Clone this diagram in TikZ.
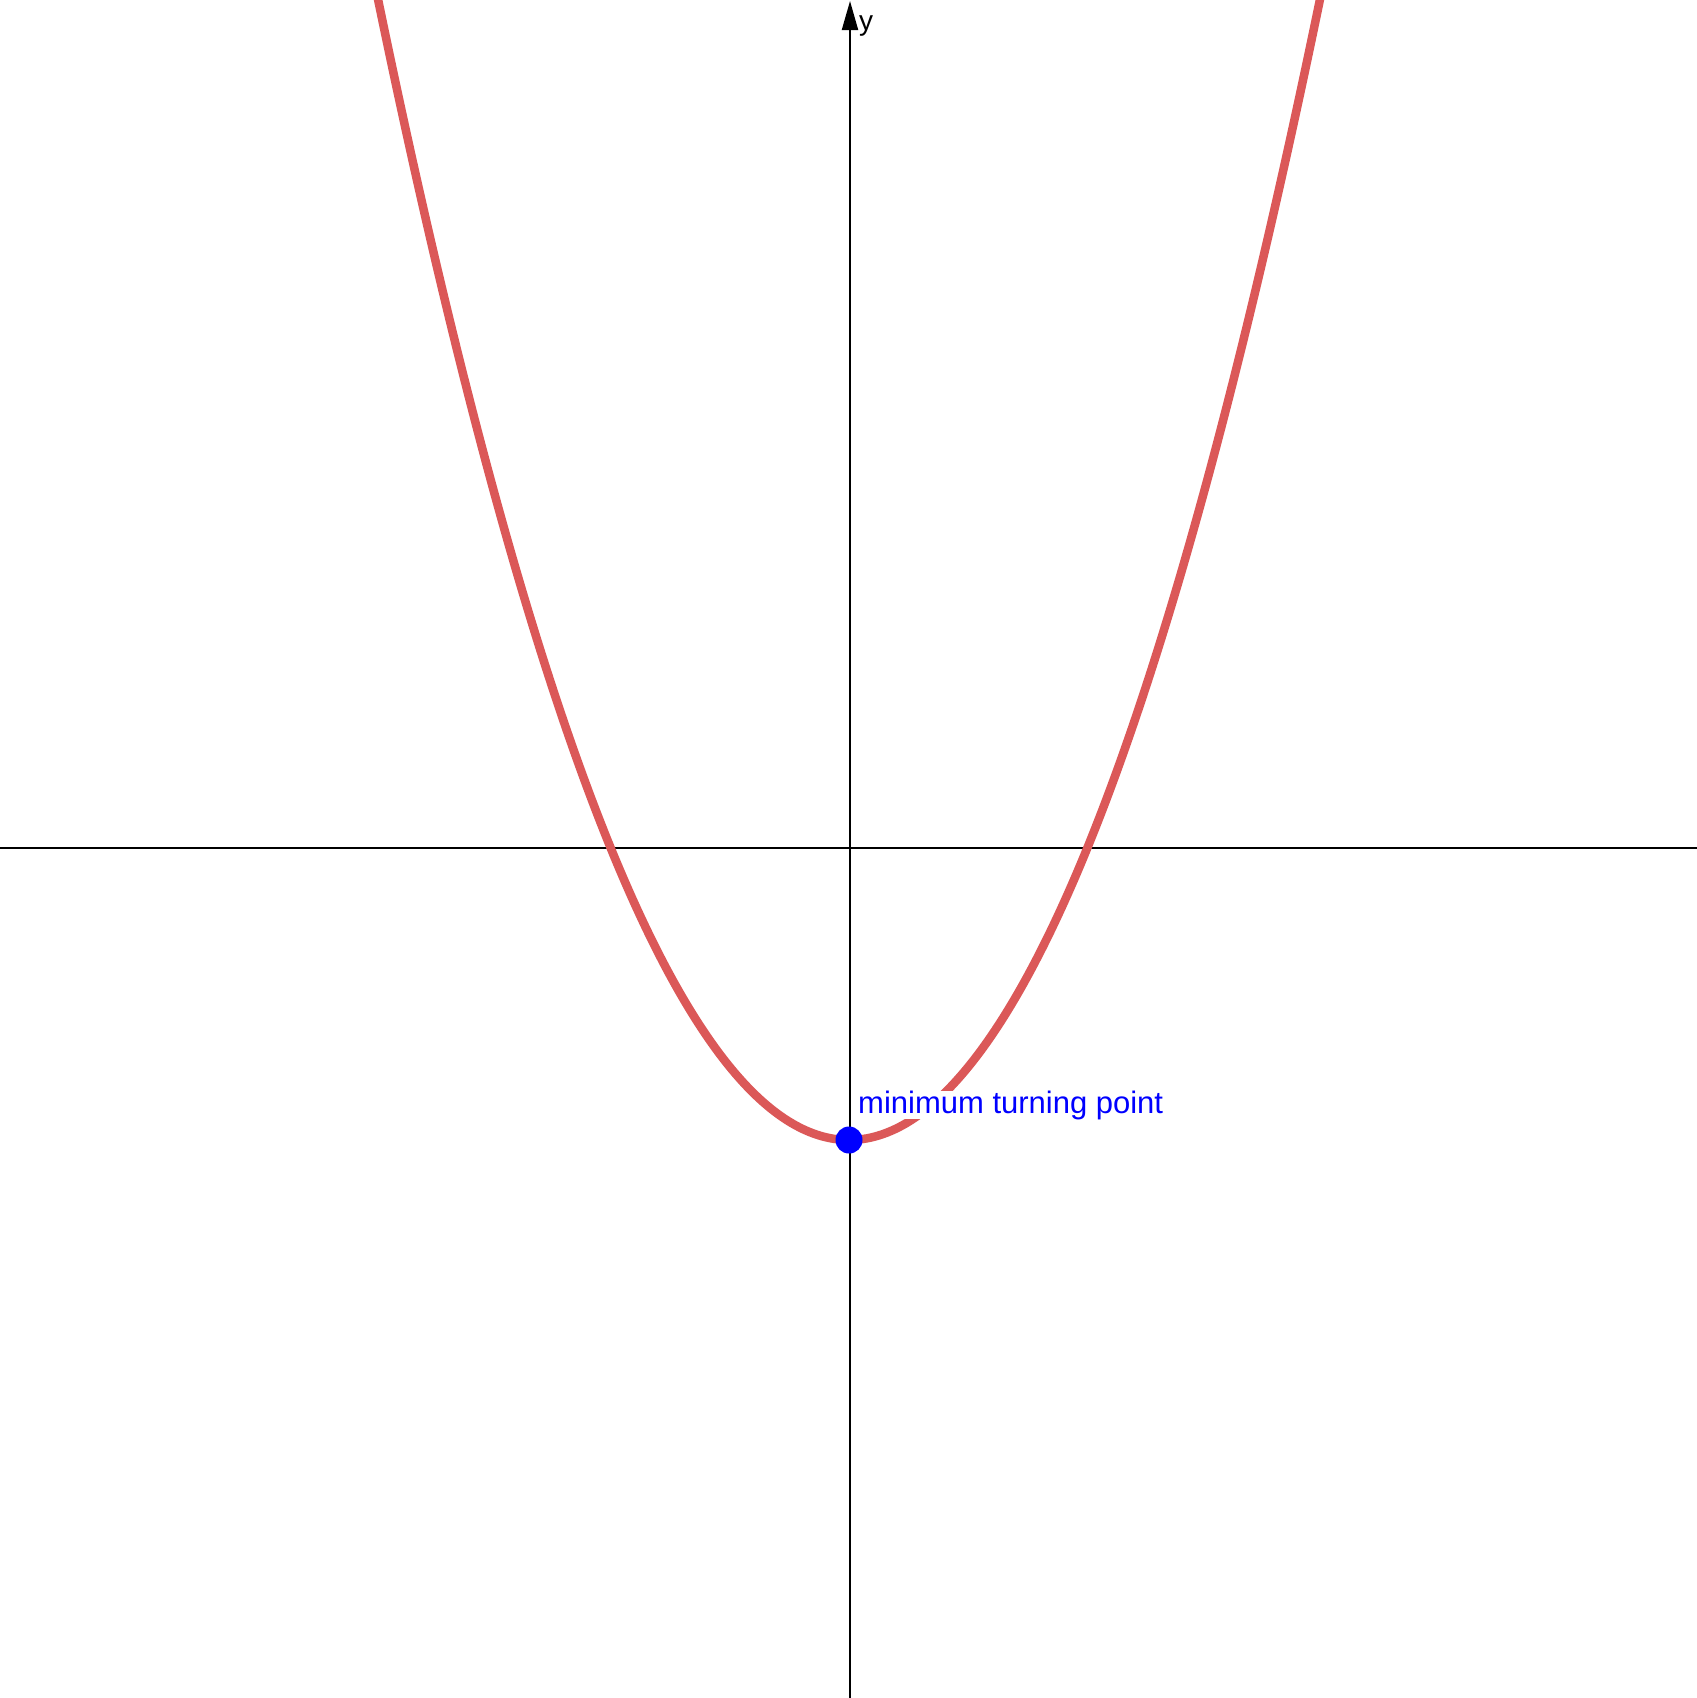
\documentclass[tikz,border=0pt]{standalone}
\usepackage{fontspec}
\setmainfont{Liberation Sans}
\usetikzlibrary{arrows.meta}
\definecolor{curvered}{RGB}{219,88,88}
\definecolor{ptblue}{RGB}{0,0,255}
\tikzset{
  axisline/.style={line width=2pt, black},
  curveline/.style={line width=8.5pt, curvered},
  ptdot/.style={circle, fill=ptblue, inner sep=0pt, minimum size=27pt},
  ptlabel/.style={text=ptblue, font=\fontsize{31pt}{36pt}\selectfont, inner sep=0pt, fill=white, anchor=base west},
  axlabel/.style={text=black, font=\fontsize{28pt}{32pt}\selectfont, inner sep=0pt, anchor=base west}
}
\begin{document}
\begin{tikzpicture}[x=1pt,y=-1pt]
\useasboundingbox (0,0) rectangle (1697,1698);
\clip (0,0) rectangle (1697,1698);
\fill[white] (0,0) rectangle (1697,1698);
% axes
\coordinate (xl) at (0,848);
\coordinate (xr) at (1697,848);
\coordinate (yb) at (850,1698);
\coordinate (yt) at (850,1);
\draw[axisline] (xl) -- (xr);
\draw[axisline, -{Triangle[length=29pt,width=16pt]}] (yb) -- (yt);
\node[axlabel] (ylab) at (859,30) {y};
% parabola
\draw[curveline] plot[domain=360:1340, samples=241, smooth] (\x, {1140-0.005142*(\x-849)*(\x-849)});
% label and minimum point
\node[ptlabel] (minlab) at (858,1113) {minimum turning point};
\node[ptdot] (minpt) at (849,1140) {};
\end{tikzpicture}
\end{document}
